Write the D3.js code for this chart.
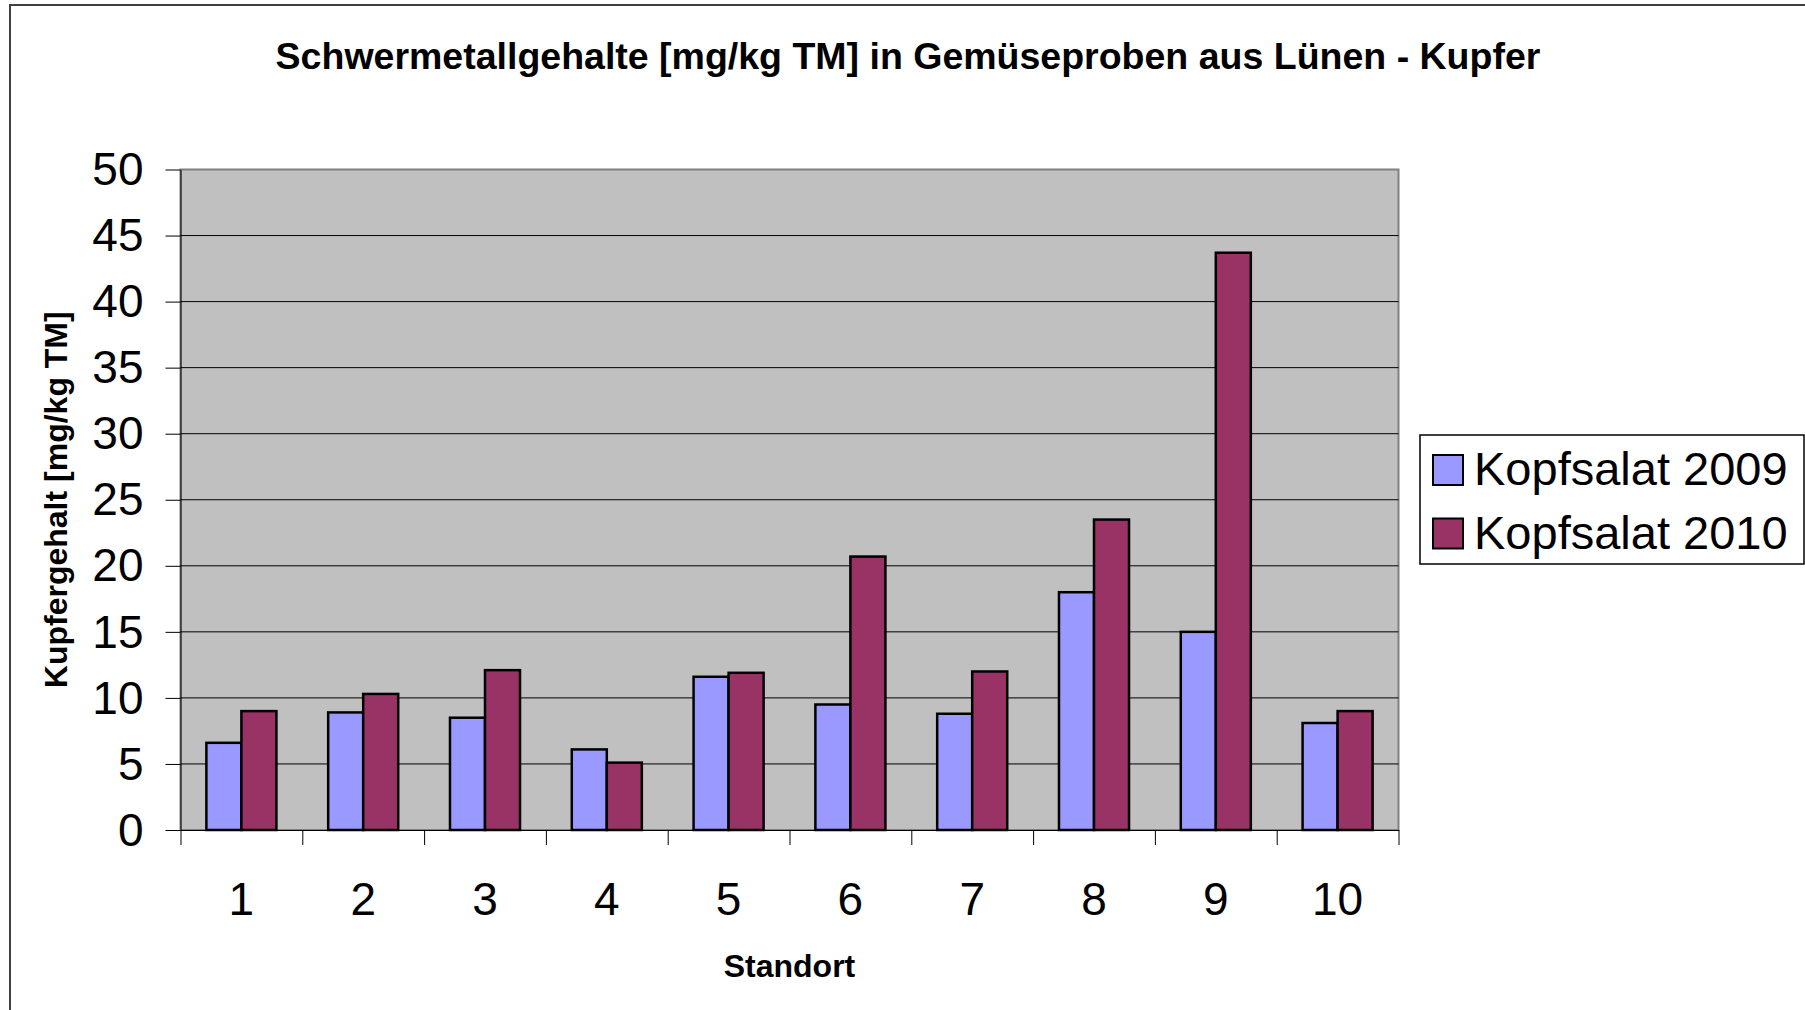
<!DOCTYPE html>
<html>
<head>
<meta charset="utf-8">
<script src="https://cdn.jsdelivr.net/npm/d3@7"></script>
<style>
  body { margin: 0; background: #fff; }
  text { font-family: "Liberation Sans", Arial, sans-serif; }
</style>
</head>
<body>
<div id="chart"></div>
<script>
// data
const standorte = ["1", "2", "3", "4", "5", "6", "7", "8", "9", "10"];
const kopfsalat2009 = [6.6, 8.9, 8.5, 6.1, 11.6, 9.5, 8.8, 18.0, 15.0, 8.1];
const kopfsalat2010 = [9.0, 10.3, 12.1, 5.1, 11.9, 20.7, 12.0, 23.5, 43.7, 9.0];
const seriesNames = ["Kopfsalat 2009", "Kopfsalat 2010"];
const seriesColors = ["#9999FF", "#993366"];
const yTicks = [0, 5, 10, 15, 20, 25, 30, 35, 40, 45, 50];

const W = 1805, H = 1010;
const plot = { left: 180.5, right: 1398.5, top: 169.5, bottom: 830 };

const svg = d3.select("#chart")
  .append("svg")
  .attr("width", W)
  .attr("height", H);

// outer chart frame (only top and left edges are inside the picture)
svg.append("rect")
  .attr("x", 10).attr("y", 5)
  .attr("width", W + 20).attr("height", H + 20)
  .attr("fill", "#fff")
  .attr("stroke", "#404040")
  .attr("stroke-width", 2);

// scales
const y = d3.scaleLinear().domain([0, 50]).range([plot.bottom, plot.top]);

const x = d3.scaleBand()
  .domain(standorte)
  .range([plot.left, plot.right])
  .paddingInner(0.425)
  .paddingOuter(0.2125);

const xSub = d3.scaleBand()
  .domain([0, 1])
  .range([0, x.bandwidth()]);

const xEdge = d3.scaleLinear().domain([0, standorte.length]).range([plot.left, plot.right]);

// plot background
svg.append("rect")
  .attr("x", plot.left).attr("y", plot.top)
  .attr("width", plot.right - plot.left)
  .attr("height", plot.bottom - plot.top)
  .attr("fill", "#C0C0C0")
  .attr("stroke", "#808080")
  .attr("stroke-width", 2);

// gridlines
svg.append("g")
  .selectAll("line")
  .data(yTicks.filter(d => d > 0 && d < 50))
  .enter()
  .append("line")
  .attr("x1", plot.left).attr("x2", plot.right)
  .attr("y1", d => y(d)).attr("y2", d => y(d))
  .attr("stroke", "#000")
  .attr("stroke-width", 1);

// bars
const groups = svg.append("g")
  .selectAll("g")
  .data(standorte.map((s, i) => ({ s, vals: [kopfsalat2009[i], kopfsalat2010[i]] })))
  .enter()
  .append("g")
  .attr("transform", d => `translate(${x(d.s)},0)`);

groups.selectAll("rect")
  .data(d => d.vals)
  .enter()
  .append("rect")
  .attr("x", (d, i) => xSub(i))
  .attr("y", d => y(d))
  .attr("width", xSub.bandwidth())
  .attr("height", d => y(0) - y(d))
  .attr("fill", (d, i) => seriesColors[i])
  .attr("stroke", "#000")
  .attr("stroke-width", 2.5);

// y axis
const yAxis = svg.append("g")
  .attr("transform", `translate(${plot.left},0)`)
  .call(d3.axisLeft(y).tickValues(yTicks).tickSize(15).tickPadding(22).tickSizeOuter(0));
yAxis.select(".domain").attr("stroke", "#000");
yAxis.selectAll(".tick line").attr("stroke", "#000");
yAxis.selectAll(".tick text")
  .attr("font-size", 46)
  .attr("font-family", "Liberation Sans, Arial, sans-serif")
  .attr("fill", "#000")
  .attr("dy", "0.33em");

// x axis: ticks on the category edges
const xAxis = svg.append("g")
  .attr("transform", `translate(0,${plot.bottom})`)
  .call(d3.axisBottom(xEdge).ticks(standorte.length).tickFormat("").tickSize(15).tickSizeOuter(0));
xAxis.select(".domain").attr("stroke", "#000");
xAxis.selectAll(".tick line").attr("stroke", "#000");

// x labels centred in their categories
const xLabels = svg.append("g")
  .attr("transform", `translate(0,${plot.bottom})`)
  .call(d3.axisBottom(x).tickSize(0).tickPadding(0));
xLabels.select(".domain").remove();
xLabels.selectAll(".tick text")
  .attr("y", 85)
  .attr("dy", 0)
  .attr("font-size", 46)
  .attr("font-family", "Liberation Sans, Arial, sans-serif")
  .attr("fill", "#000");

// titles
svg.append("text")
  .attr("x", 908).attr("y", 69)
  .attr("text-anchor", "middle")
  .attr("font-size", 37.5)
  .attr("font-weight", "bold")
  .text("Schwermetallgehalte [mg/kg TM] in Gemüseproben aus Lünen - Kupfer");

svg.append("text")
  .attr("x", (plot.left + plot.right) / 2).attr("y", 977)
  .attr("text-anchor", "middle")
  .attr("font-size", 32)
  .attr("font-weight", "bold")
  .text("Standort");

svg.append("text")
  .attr("transform", `translate(67,${(plot.top + plot.bottom) / 2}) rotate(-90)`)
  .attr("text-anchor", "middle")
  .attr("font-size", 32)
  .attr("font-weight", "bold")
  .text("Kupfergehalt [mg/kg TM]");

// legend
const legend = svg.append("g").attr("transform", "translate(1420,435)");
legend.append("rect")
  .attr("width", 384).attr("height", 129)
  .attr("fill", "#fff")
  .attr("stroke", "#000")
  .attr("stroke-width", 1.5);

const items = legend.selectAll("g.item")
  .data(seriesNames)
  .enter()
  .append("g")
  .attr("class", "item")
  .attr("transform", (d, i) => `translate(0,${i * 63.5})`);

items.append("rect")
  .attr("x", 13).attr("y", 20)
  .attr("width", 30).attr("height", 30)
  .attr("fill", (d, i) => seriesColors[i])
  .attr("stroke", "#000")
  .attr("stroke-width", 2);

items.append("text")
  .attr("x", 54).attr("y", 50)
  .attr("font-size", 47)
  .text(d => d);
</script>
</body>
</html>
